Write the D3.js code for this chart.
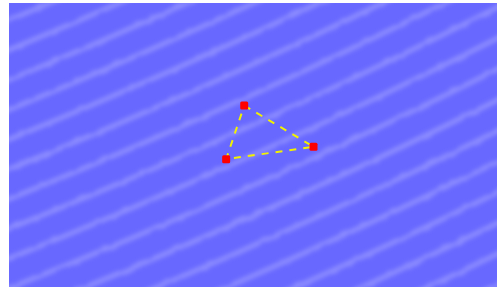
<!DOCTYPE html>
<html>
<head>
<meta charset="utf-8">
<script src="https://cdn.jsdelivr.net/npm/d3@7"></script>
<style>
  body { margin: 0; background: #fff; }
  svg { display: block; }
</style>
</head>
<body>
<div id="chart"></div>
<script>
// Triangle of three points on a rippled blue field

// DATA ___________________________________________________________
const POINT_NAMES = ['A', 'B', 'C'];
const POINT_X = [48.2, 62.4, 44.5];
const POINT_Y = [63.9, 49.4, 45.0];
// path order around the triangle (closed)
const PATH_ORDER = ['A', 'B', 'C', 'A'];
//________________________________________________________________

// SETTINGS _______________________________________________________
const W = 497, H = 287;
const MARGIN = {top: 3, right: 0, bottom: 0, left: 9};
const IW = W - MARGIN.left - MARGIN.right;
const IH = H - MARGIN.top - MARGIN.bottom;
const BG = '#6868ff';
const RIPPLE = '#8c8cff';
const RIPPLE_GAP = 27.6;
//________________________________________________________________

const svg = d3.select('#chart').append('svg')
    .attr('width', W)
    .attr('height', H);

const defs = svg.append('defs');
defs.append('clipPath').attr('id', 'plot-clip')
    .append('rect').attr('width', IW).attr('height', IH);

// soft, slightly wobbly ripple lines
const soft = defs.append('filter').attr('id', 'soft')
    .attr('x', '-10%').attr('y', '-10%').attr('width', '120%').attr('height', '120%');
soft.append('feTurbulence')
    .attr('type', 'fractalNoise')
    .attr('baseFrequency', 0.08)
    .attr('numOctaves', 2)
    .attr('seed', 3)
    .attr('result', 'noise');
soft.append('feDisplacementMap')
    .attr('in', 'SourceGraphic')
    .attr('in2', 'noise')
    .attr('scale', 3)
    .attr('result', 'wob');
soft.append('feGaussianBlur')
    .attr('in', 'wob')
    .attr('stdDeviation', 2);

const g = svg.append('g')
    .attr('transform', `translate(${MARGIN.left},${MARGIN.top})`);

const x = d3.scaleLinear().domain([0, 100]).range([0, IW]);
const y = d3.scaleLinear().domain([0, 100]).range([IH, 0]);

// background field
const field = g.append('g').attr('clip-path', 'url(#plot-clip)');
field.append('rect')
    .attr('width', IW).attr('height', IH)
    .attr('fill', BG);

// ripples: big concentric arcs, centre far off to the upper left
const cx = -2225, cy = -5330;
// one ripple passes through the left edge at y=47 (plot coords)
const r0 = Math.hypot(0 - cx, 47 - cy);
const rMin = Math.hypot(0 - cx, 0 - cy) - RIPPLE_GAP;
const rMax = Math.hypot(IW - cx, IH - cy) + RIPPLE_GAP;
const kMin = Math.floor((rMin - r0) / RIPPLE_GAP);
const kMax = Math.ceil((rMax - r0) / RIPPLE_GAP);
field.append('g')
    .attr('filter', 'url(#soft)')
    .selectAll('circle')
    .data(d3.range(kMin, kMax + 1))
    .join('circle')
    .attr('cx', cx)
    .attr('cy', cy)
    .attr('r', k => r0 + k * RIPPLE_GAP)
    .attr('fill', 'none')
    .attr('stroke', RIPPLE)
    .attr('stroke-width', 5);

// triangle
const pts = POINT_NAMES.map((n, i) => ({name: n, x: POINT_X[i], y: POINT_Y[i]}));
const byName = new Map(pts.map(p => [p.name, p]));

const line = d3.line().x(d => x(d.x)).y(d => y(d.y));
g.append('path')
    .datum(PATH_ORDER.map(n => byName.get(n)))
    .attr('d', line)
    .attr('fill', 'none')
    .attr('stroke', '#f2f200')
    .attr('stroke-width', 2)
    .attr('stroke-dasharray', '7,7');

g.selectAll('.pt')
    .data(pts)
    .join('rect')
    .attr('class', 'pt')
    .attr('x', d => x(d.x) - 4)
    .attr('y', d => y(d.y) - 4)
    .attr('width', 8)
    .attr('height', 8)
    .attr('rx', 1.5)
    .attr('fill', '#ff0000');
</script>
</body>
</html>
